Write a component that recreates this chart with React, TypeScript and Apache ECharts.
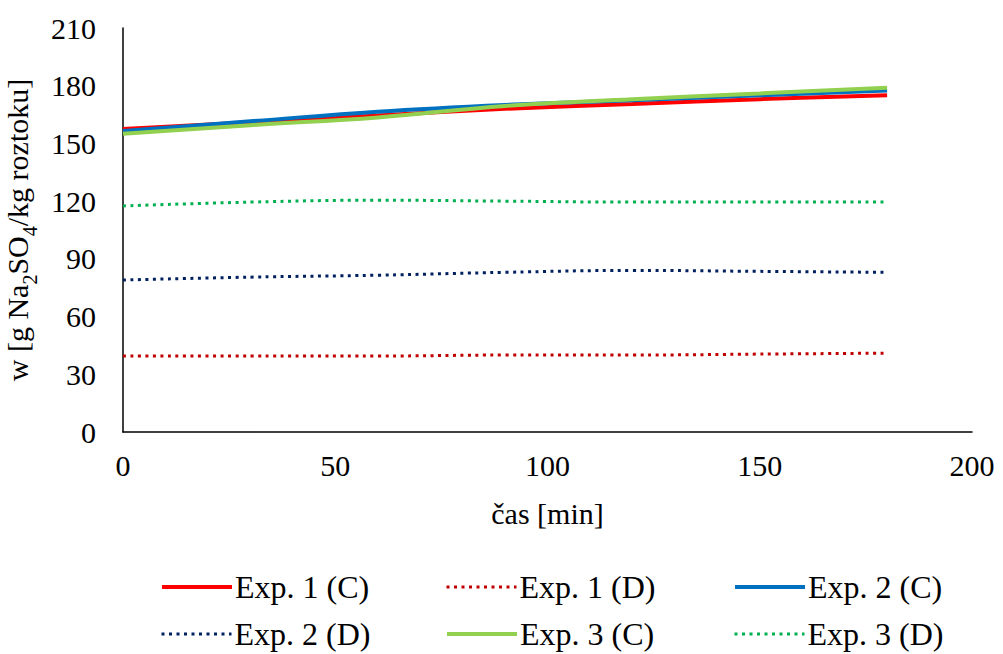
import React, { useEffect, useRef } from "react";
import * as echarts from "echarts";

const times = [0, 30, 60, 90, 120, 150, 180];
const exp1C = [157.5, 161, 164.5, 168, 170.5, 173, 175];
const exp1D = [39.5, 39.5, 39.5, 40, 40, 40.5, 41];
const exp2C = [156.5, 161.5, 166.5, 170, 172.5, 175, 177.5];
const exp2D = [79, 80.5, 81.5, 83, 84, 83.5, 83];
const exp3C = [155, 159.5, 163.5, 169.5, 173, 176, 179];
const exp3D = [117.5, 119.5, 120.5, 120, 119.5, 119.5, 119.5];

const seriesNames = ["Exp. 1 (C)", "Exp. 1 (D)", "Exp. 2 (C)", "Exp. 2 (D)", "Exp. 3 (C)", "Exp. 3 (D)"];
const seriesData = [exp1C, exp1D, exp2C, exp2D, exp3C, exp3D];
const seriesColors = ["#FF0000", "#C00000", "#0070C0", "#002060", "#92D050", "#00B050"];
const seriesDotted = [false, true, false, true, false, true];

const FONT = "Liberation Serif";

export default function App() {
  const ref = useRef<HTMLDivElement>(null);
  useEffect(() => {
    document.body.style.margin = "0";
    const chart = echarts.init(ref.current!, null, { renderer: "svg" });
    const legendPos = [
      { left: 155, top: 566 },
      { left: 440, top: 566 },
      { left: 728, top: 566 },
      { left: 155, top: 613 },
      { left: 440, top: 613 },
      { left: 728, top: 613 },
    ];
    const styleFor = (i: number) =>
      seriesDotted[i]
        ? { color: seriesColors[i], width: 3, type: [3, 4.5] }
        : { color: seriesColors[i], width: 4, type: "solid" };
    chart.setOption({
      animation: false,
      backgroundColor: "#ffffff",
      textStyle: { fontFamily: FONT },
      grid: { left: 123, right: 31, top: 28, bottom: 222, containLabel: false, outerBoundsMode: "none" },
      xAxis: {
        type: "value",
        min: 0,
        max: 200,
        interval: 50,
        name: "čas [min]",
        nameLocation: "middle",
        nameGap: 66,
        nameTextStyle: { fontFamily: FONT, fontSize: 30, color: "#000" },
        axisLine: { show: true, lineStyle: { color: "#000", width: 1.5 } },
        axisTick: { show: false },
        splitLine: { show: false },
        axisLabel: { fontFamily: FONT, fontSize: 30, color: "#000", margin: 18 },
      },
      yAxis: {
        type: "value",
        min: 0,
        max: 210,
        interval: 30,
        name: "{n|w [g Na}{s|2}{n|SO}{s|4}{n|/kg roztoku]}",
        nameLocation: "middle",
        nameRotate: 90,
        nameGap: 82,
        nameTextStyle: {
          fontFamily: FONT,
          color: "#000",
          rich: {
            n: { fontFamily: FONT, fontSize: 30, color: "#000", verticalAlign: "bottom", lineHeight: 34 },
            s: { fontFamily: FONT, fontSize: 20, color: "#000", verticalAlign: "bottom", lineHeight: 34, padding: [0, 0, -8, 0] },
          },
        },
        axisLine: { show: true, lineStyle: { color: "#000", width: 1.5 } },
        axisTick: { show: false },
        splitLine: { show: false },
        axisLabel: { fontFamily: FONT, fontSize: 30, color: "#000", margin: 27 },
      },
      legend: seriesNames.map((nm, i) => ({
        data: [nm],
        left: legendPos[i].left,
        top: legendPos[i].top,
        itemWidth: 70,
        itemHeight: 14,
        itemGap: 4,
        itemStyle: { opacity: 0 },
        lineStyle: styleFor(i),
        textStyle: { fontFamily: FONT, fontSize: 32, color: "#000", padding: [0, 0, 0, -2] },
      })),
      series: seriesNames.map((nm, i) => ({
        name: nm,
        type: "line",
        data: times.map((t, j) => [t, seriesData[i][j]]),
        smooth: 0.4,
        symbol: "none",
        color: seriesColors[i],
        lineStyle: styleFor(i),
      })),
    });
    return () => chart.dispose();
  }, []);
  return <div ref={ref} style={{ width: 1003, height: 654 }} />;
}
